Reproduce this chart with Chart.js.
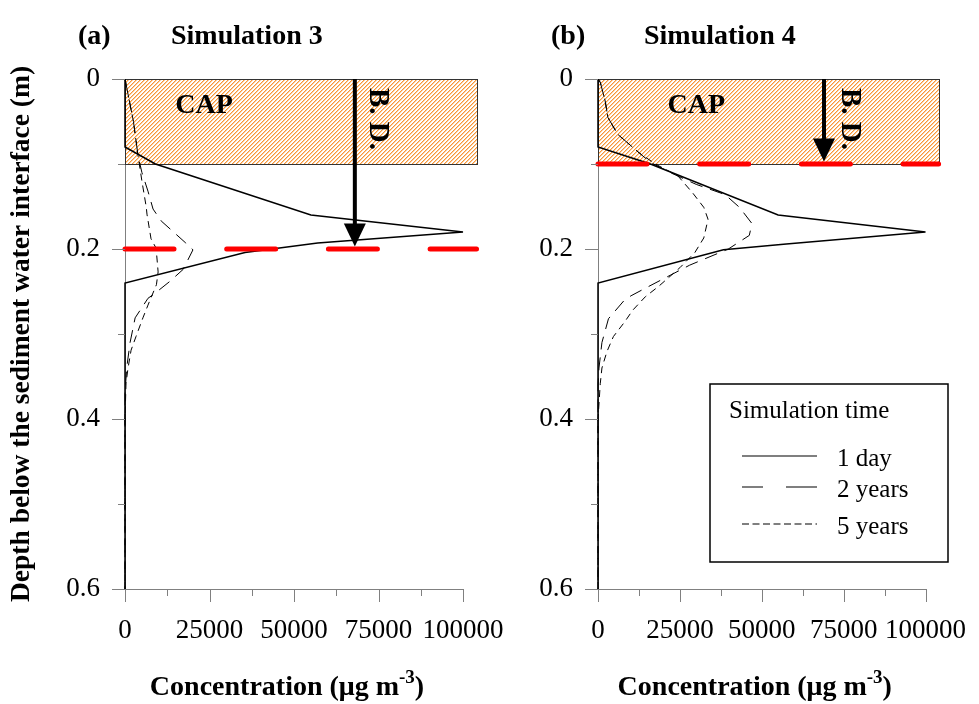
<!DOCTYPE html>
<html>
<head>
<meta charset="utf-8">
<script src="https://cdn.jsdelivr.net/npm/chart.js@4.4.1/dist/chart.umd.min.js"></script>
<style>
  html, body { margin: 0; padding: 0; background: #fff; }
  #wrap { position: relative; width: 979px; height: 704px; }
  canvas { position: absolute; left: 0; top: 0; }
</style>
</head>
<body>
<div id="wrap">
  <canvas id="sim3" width="979" height="704"></canvas>
  <canvas id="sim4" width="979" height="704"></canvas>
</div>
<script>
// concentration (ug m-3) vs depth (m) pairs, one list per simulation time
const seriesNames = ['1 day', '2 years', '5 years'];

const sim3Day1 = [[0, 0], [0, 0.08], [9000, 0.1], [55000, 0.16], [100000, 0.18], [57000, 0.193], [35500, 0.204], [0, 0.24], [0, 0.6]];
const sim3Year2 = [[0, 0], [1000, 0.02], [2500, 0.05], [3850, 0.09], [5000, 0.11], [6800, 0.132], [8300, 0.153], [10700, 0.167],
  [18000, 0.193], [20100, 0.201], [17200, 0.224], [13300, 0.238], [8900, 0.252], [6800, 0.258], [3000, 0.281], [1500, 0.31],
  [500, 0.34], [0, 0.37], [0, 0.6]];
const sim3Year5 = [[0, 0], [1000, 0.02], [2500, 0.05], [3850, 0.09], [5000, 0.12], [6300, 0.151], [6500, 0.159], [7700, 0.188],
  [9200, 0.199], [9800, 0.227], [9300, 0.242], [6800, 0.266], [5300, 0.281], [3250, 0.303], [1800, 0.319], [900, 0.34],
  [300, 0.358], [0, 0.4], [0, 0.6]];

const sim4Day1 = [[0, 0], [0, 0.08], [16000, 0.1], [55000, 0.16], [100000, 0.18], [57500, 0.194], [38300, 0.201], [0, 0.24], [0, 0.6]];
const sim4Year2 = [[0, 0], [700, 0.004], [2200, 0.026], [3000, 0.045], [6000, 0.065], [12600, 0.087], [16000, 0.098], [22000, 0.11],
  [30000, 0.124], [38800, 0.136], [43200, 0.151], [47000, 0.17], [46200, 0.184], [39800, 0.2], [28000, 0.219], [22000, 0.231],
  [14500, 0.246], [10100, 0.255], [8100, 0.26], [3200, 0.282], [1200, 0.31], [300, 0.34], [0, 0.36], [0, 0.6]];
const sim4Year5 = [[0, 0], [700, 0.004], [2200, 0.026], [3000, 0.045], [6000, 0.065], [12600, 0.087], [17500, 0.1], [24400, 0.114],
  [28900, 0.134], [32300, 0.151], [33600, 0.165], [32300, 0.187], [29600, 0.204], [25000, 0.222], [18500, 0.244], [14500, 0.256],
  [10600, 0.272], [8100, 0.286], [4700, 0.303], [2700, 0.321], [1200, 0.34], [700, 0.358], [0, 0.4], [0, 0.6]];

// axis ticks
const concTicks = [0, 25000, 50000, 75000, 100000];
const depthTicks = [0, 0.2, 0.4, 0.6];

// cap layer and bioturbation depth markers
const capBottom = 0.1;
const capRight = 104000;
const sim3BioDepth = 0.2;
const sim4BioDepth = 0.1;

const serif = "'Liberation Serif', 'Times New Roman', serif";
const axisGrey = '#808080';

function pts(list) { return list.map(([x, y]) => ({ x, y })); }

// 1px orange diagonal hatch, one line every 4px
function makeHatch(ctx) {
  const c = document.createElement('canvas');
  c.width = 4; c.height = 4;
  const g = c.getContext('2d');
  g.fillStyle = '#ffffff';
  g.fillRect(0, 0, 4, 4);
  for (let i = 0; i < 4; i++) {
    g.fillStyle = 'rgb(247,150,55)';
    g.fillRect(i, 3 - i, 1, 1);
    g.fillStyle = 'rgb(252,205,160)';
    g.fillRect(i, (4 - i) % 4, 1, 1);
  }
  return ctx.createPattern(c, 'repeat');
}

// hatched cap box and its label
const capLayer = {
  id: 'capLayer',
  beforeDatasetsDraw(chart, args, o) {
    const { ctx, scales: { x, y } } = chart;
    const l = Math.round(x.getPixelForValue(0)), r = Math.round(x.getPixelForValue(capRight));
    const t = Math.round(y.getPixelForValue(0)), b = Math.round(y.getPixelForValue(capBottom));
    ctx.save();
    ctx.fillStyle = makeHatch(ctx);
    ctx.fillRect(l, t, r - l, b - t);
    ctx.strokeStyle = '#333';
    ctx.lineWidth = 1;
    ctx.strokeRect(l + 0.5, t + 0.5, r - l, b - t);
    ctx.fillStyle = '#000';
    ctx.font = `bold 28px ${serif}`;
    ctx.textAlign = 'center';
    ctx.textBaseline = 'middle';
    ctx.fillText('CAP', x.getPixelForValue(o.capTextX), y.getPixelForValue(0.032));
    ctx.restore();
  },
  afterDatasetsDraw(chart, args, o) {
    const { ctx, scales: { x, y } } = chart;
    const ax = x.getPixelForValue(o.arrowX);
    const top = y.getPixelForValue(0);
    const tip = y.getPixelForValue(o.arrowTip);
    ctx.save();
    ctx.strokeStyle = '#000';
    ctx.fillStyle = '#000';
    ctx.lineWidth = 4;
    ctx.beginPath();
    ctx.moveTo(ax, top);
    ctx.lineTo(ax, tip - 20);
    ctx.stroke();
    ctx.beginPath();
    ctx.moveTo(ax - 11, tip - 23);
    ctx.lineTo(ax + 11, tip - 23);
    ctx.lineTo(ax, tip);
    ctx.closePath();
    ctx.fill();
    // rotated B.D. label
    ctx.translate(x.getPixelForValue(o.bdTextX), y.getPixelForValue(0.047));
    ctx.rotate(Math.PI / 2);
    ctx.font = `bold 29px ${serif}`;
    ctx.textAlign = 'center';
    ctx.textBaseline = 'middle';
    ctx.fillText('B. D.', 0, 0);
    ctx.restore();
  }
};

// major and minor tick marks, titles
const frame = {
  id: 'frame',
  afterDraw(chart, args, o) {
    const { ctx, chartArea: ca, scales: { x, y } } = chart;
    ctx.save();
    ctx.strokeStyle = axisGrey;
    ctx.lineWidth = 1;
    ctx.beginPath();
    x.ticks.forEach((t) => {
      const px = Math.round(x.getPixelForValue(t.value)) + 0.5;
      const len = concTicks.includes(t.value) ? 13 : 7;
      ctx.moveTo(px, ca.bottom); ctx.lineTo(px, ca.bottom + len);
    });
    y.ticks.forEach((t) => {
      const py = Math.round(y.getPixelForValue(t.value)) + 0.5;
      const major = depthTicks.some((d) => Math.abs(d - t.value) < 1e-6);
      ctx.moveTo(ca.left, py); ctx.lineTo(ca.left - (major ? 13 : 7), py);
    });
    ctx.stroke();

    ctx.fillStyle = '#000';
    ctx.textBaseline = 'alphabetic';
    ctx.textAlign = 'left';
    ctx.font = `bold 28px ${serif}`;
    ctx.fillText(o.tag, ca.left - 47, 44);
    ctx.fillText(o.title, ca.left + 46, 44);

    // concentration title with superscript
    const main = 'Concentration (\u03bcg m';
    const sup = '-3';
    const close = ')';
    ctx.font = `bold 28px ${serif}`;
    const w1 = ctx.measureText(main).width;
    const w3 = ctx.measureText(close).width;
    ctx.font = `bold 19px ${serif}`;
    const w2 = ctx.measureText(sup).width;
    const cx = (ca.left + ca.right) / 2 - 7 - (w1 + w2 + w3) / 2;
    const base = 695;
    ctx.font = `bold 28px ${serif}`;
    ctx.fillText(main, cx, base);
    ctx.font = `bold 19px ${serif}`;
    ctx.fillText(sup, cx + w1, base - 12);
    ctx.font = `bold 28px ${serif}`;
    ctx.fillText(close, cx + w1 + w2, base);
    ctx.restore();
  }
};

// boxed legend for the simulation times
const timeLegend = {
  id: 'timeLegend',
  afterDraw(chart, args, o) {
    if (!o.show) return;
    const { ctx, chartArea: ca } = chart;
    const bx = ca.left + 112, by = ca.top + 305, bw = 238, bh = 178;
    ctx.save();
    ctx.strokeStyle = '#000';
    ctx.lineWidth = 1.5;
    ctx.strokeRect(bx, by, bw, bh);
    ctx.fillStyle = '#000';
    ctx.font = `25px ${serif}`;
    ctx.textBaseline = 'middle';
    ctx.fillText('Simulation time', bx + 19, by + 27);
    const dashes = [[], [21, 23, 31, 0], [7, 3.5]];
    const rows = [by + 75, by + 106, by + 143];
    seriesNames.forEach((name, i) => {
      ctx.lineWidth = 1.2;
      ctx.setLineDash(dashes[i]);
      ctx.beginPath();
      ctx.moveTo(bx + 32, rows[i] - 3);
      ctx.lineTo(bx + 107, rows[i] - 3);
      ctx.stroke();
      ctx.setLineDash([]);
      ctx.fillText(name, bx + 127, rows[i]);
    });
    ctx.restore();
  }
};

function makePanel(id, p) {
  const datasets = [
    { label: 'B.D.', data: pts([[0, p.bioDepth], [capRight, p.bioDepth]]), borderColor: '#ff0000', borderWidth: 5,
      borderDash: [49, 52.7], borderCapStyle: 'round' },
    { label: seriesNames[0], data: pts(p.day1), borderColor: '#000', borderWidth: 1.5 },
    { label: seriesNames[1], data: pts(p.year2), borderColor: '#000', borderWidth: 1, borderDash: [13, 8] },
    { label: seriesNames[2], data: pts(p.year5), borderColor: '#000', borderWidth: 1, borderDash: [7, 5] }
  ];
  datasets.forEach((d) => { d.showLine = true; d.pointRadius = 0; d.tension = 0; d.fill = false; d.clip = false; });

  return new Chart(document.getElementById(id), {
    type: 'scatter',
    data: { datasets },
    plugins: [capLayer, frame, timeLegend],
    options: {
      responsive: false,
      animation: false,
      layout: { padding: { left: p.padLeft, right: p.padRight, top: 79, bottom: 0 } },
      plugins: {
        legend: { display: false },
        tooltip: { enabled: false },
        capLayer: { capTextX: p.capTextX, arrowX: p.arrowX, arrowTip: p.arrowTip, bdTextX: p.bdTextX },
        frame: { tag: p.tag, title: p.title },
        timeLegend: { show: p.legend }
      },
      scales: {
        x: {
          type: 'linear', position: 'bottom', min: 0, max: 100000,
          afterFit: (s) => { s.height = 115; },
          border: { color: axisGrey, width: 1 },
          grid: { display: false, drawTicks: true, tickLength: 13 },
          ticks: {
            stepSize: 12500, autoSkip: false, maxRotation: 0, padding: 13, color: '#000',
            font: { family: serif, size: 27 },
            callback: (v) => concTicks.includes(v) ? String(v) : ''
          }
        },
        y: {
          type: 'linear', min: 0, max: 0.6, reverse: true,
          afterFit: (s) => { s.width = 125; },
          border: { color: axisGrey, width: 1 },
          grid: { display: false, drawTicks: true, tickLength: 13 },
          ticks: {
            stepSize: 0.1, autoSkip: false, padding: 12, color: '#000',
            font: { family: serif, size: 27 },
            callback: (v) => depthTicks.some((d) => Math.abs(d - v) < 1e-6) ? String(+v.toFixed(1)) : ''
          },
          title: {
            display: p.depthTitle, text: 'Depth below the sediment water interface (m)', color: '#000',
            font: { family: serif, size: 27.5, weight: 'bold' }, padding: { top: 5, bottom: 0 }
          }
        }
      }
    }
  });
}

makePanel('sim3', {
  tag: '(a)', title: 'Simulation 3', day1: sim3Day1, year2: sim3Year2, year5: sim3Year5,
  bioDepth: sim3BioDepth, arrowX: 68000, arrowTip: 0.197, capTextX: 23400, bdTextX: 74600,
  padLeft: 0, padRight: 516, depthTitle: true, legend: false
});
makePanel('sim4', {
  tag: '(b)', title: 'Simulation 4', day1: sim4Day1, year2: sim4Year2, year5: sim4Year5,
  bioDepth: sim4BioDepth, arrowX: 69000, arrowTip: 0.097, capTextX: 30000, bdTextX: 76900,
  padLeft: 473, padRight: 43, depthTitle: false, legend: true
});
</script>
</body>
</html>
